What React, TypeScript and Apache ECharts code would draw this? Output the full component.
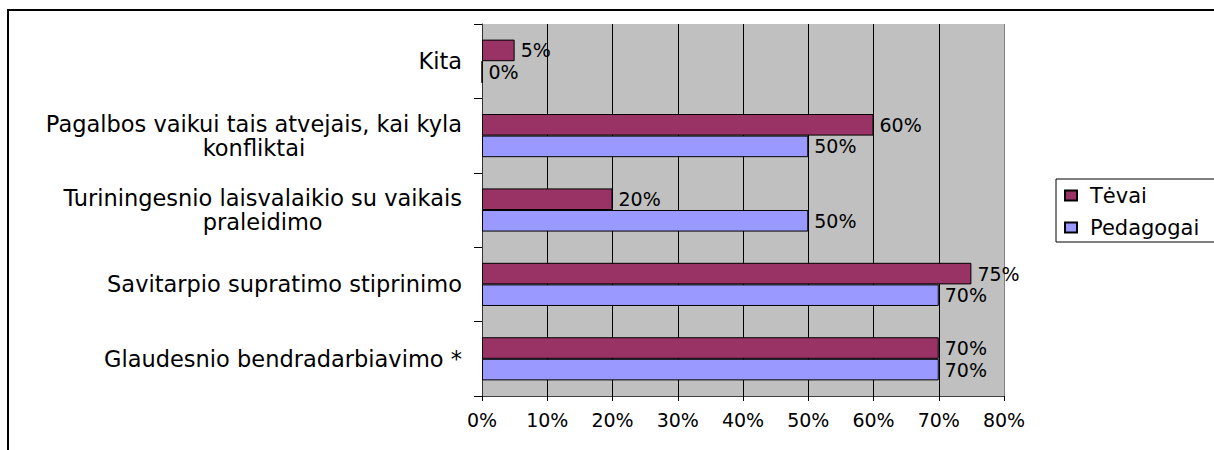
import React, { useEffect, useRef } from "react";
import * as echarts from "echarts";

// Categories listed top to bottom as in the chart
const categories = [
  "Kita",
  "Pagalbos vaikui tais atvejais, kai kyla\nkonfliktai",
  "Turiningesnio laisvalaikio su vaikais\npraleidimo",
  "Savitarpio supratimo stiprinimo",
  "Glaudesnio bendradarbiavimo *",
];
const seriesNames = ["Tėvai", "Pedagogai"];
const tevai = [5, 60, 20, 75, 70];
const pedagogai = [0, 50, 50, 70, 70];
const xMax = 80;
const xInterval = 10;

const FONT = "DejaVu Sans";

export default function App() {
  const ref = useRef<HTMLDivElement>(null);
  useEffect(() => {
    document.body.style.margin = "0";
    if (!ref.current) return;
    const chart = echarts.init(ref.current, undefined, { renderer: "svg" });
    const splitColors: string[] = [];
    for (let v = 0; v <= xMax; v += xInterval) splitColors.push(v === xMax ? "#808080" : "#000000");
    const valueLabel = {
      show: true,
      position: "right",
      distance: 6,
      formatter: "{c}%",
      fontFamily: FONT,
      fontSize: 19,
      color: "#000",
    };
    chart.setOption({
      animation: false,
      backgroundColor: "#ffffff",
      textStyle: { fontFamily: FONT, color: "#000" },
      graphic: [
        {
          type: "rect",
          shape: { x: 8, y: 10, width: 1220, height: 460 },
          style: { fill: "none", stroke: "#000", lineWidth: 2 },
          silent: true,
        },
      ],
      grid: {
        left: 482,
        top: 24,
        right: 210,
        bottom: 54,
        show: true,
        backgroundColor: "#c0c0c0",
        borderWidth: 0,
      },
      legend: {
        orient: "vertical",
        left: 1056,
        top: 179,
        data: seriesNames,
        icon: "rect",
        itemWidth: 12,
        itemHeight: 10,
        itemGap: 11,
        padding: [6, 60, 4, 8],
        borderColor: "#000",
        borderWidth: 1,
        backgroundColor: "#fff",
        textStyle: { fontFamily: FONT, fontSize: 21, color: "#000", lineHeight: 20, padding: [0, 0, 0, 8] },
      },
      xAxis: {
        type: "value",
        min: 0,
        max: xMax,
        interval: xInterval,
        axisLine: { show: true, lineStyle: { color: "#404040", width: 1 } },
        axisTick: { show: true, length: 5, lineStyle: { color: "#000" } },
        axisLabel: {
          formatter: "{value}%",
          fontFamily: FONT,
          fontSize: 19,
          color: "#000",
          margin: 14,
        },
        splitLine: { show: true, lineStyle: { color: splitColors, width: 1 } },
      },
      yAxis: {
        type: "category",
        inverse: true,
        data: categories,
        axisLine: { show: true, lineStyle: { color: "#333", width: 1 } },
        axisTick: { show: true, length: 8, lineStyle: { color: "#000" } },
        axisLabel: {
          margin: 20,
          formatter: (v: string) => v.split("\n").map((l) => `{c|${l}}`).join("\n"),
          rich: {
            c: { fontFamily: FONT, fontSize: 22.5, color: "#000", align: "center", lineHeight: 24 },
          },
        },
        splitLine: { show: false },
      },
      series: [
        {
          name: seriesNames[0],
          type: "bar",
          data: tevai,
          barGap: "0%",
          barCategoryGap: "42%",
          itemStyle: { color: "#993366", borderColor: "#000", borderWidth: 1 },
          label: valueLabel,
        },
        {
          name: seriesNames[1],
          type: "bar",
          data: pedagogai,
          barGap: "0%",
          barCategoryGap: "42%",
          itemStyle: { color: "#9999ff", borderColor: "#000", borderWidth: 1 },
          label: valueLabel,
        },
      ],
    });
    return () => chart.dispose();
  }, []);
  return <div ref={ref} style={{ width: 1214, height: 450 }} />;
}
